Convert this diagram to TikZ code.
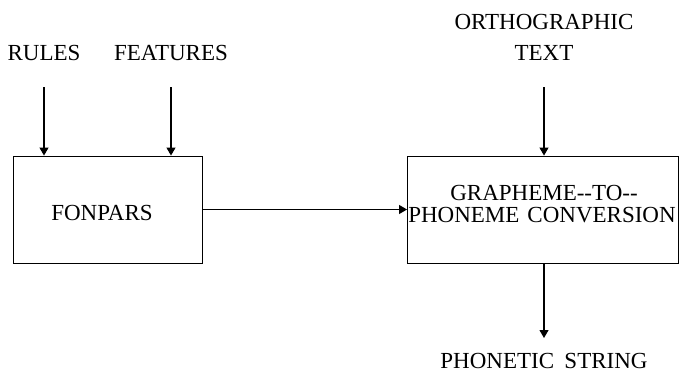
\documentclass[tikz,border=0pt]{standalone}
\usepackage{fontspec}
\setmainfont{Liberation Serif}
\usetikzlibrary{arrows.meta}
\begin{document}
\begin{tikzpicture}[x=1pt,y=-1pt,
  lbl/.style={inner sep=0pt,font=\fontsize{23}{30}\selectfont},
  blk/.style={draw,line width=0.9pt,inner sep=0pt},
  flow/.style={line width=1.1pt,-{Triangle[width=9pt,length=8pt]}}]
\useasboundingbox (0,0) rectangle (679,375);
% boxes
\node[blk,minimum width=189pt,minimum height=107pt] (fon) at (107.5,209.5) {};
\node[blk,minimum width=271pt,minimum height=107pt] (gtp) at (543,209.5) {};
\node[lbl] (fontext) at (102,213) {FONPARS};
\node[lbl] (g1) at (544,193) {GRAPHEME-{}-TO-{}-};
\node[lbl] (g2) at (542,215) {PHONEME\hspace{0.35em}CONVERSION};
% inputs
\node[lbl] (rules) at (44,53) {RULES};
\node[lbl] (feat) at (171,53) {FEATURES};
\node[lbl] (orth) at (544,22) {ORTHOGRAPHIC};
\node[lbl] (text) at (544,53) {TEXT};
\node[lbl] (phon) at (544,361) {PHONETIC\hspace{0.45em}STRING};
% connector endpoints
\coordinate (r0) at (44,87);
\coordinate (f0) at (171,87);
\coordinate (o0) at (544,87);
\coordinate (p1) at (544,338);
\draw[flow] (r0) -- (r0 |- fon.north);
\draw[flow] (f0) -- (f0 |- fon.north);
\draw[flow] (o0) -- (o0 |- gtp.north);
\draw[flow] (fon.east) -- (gtp.west);
\draw[flow] (p1 |- gtp.south) -- (p1);
\end{tikzpicture}
\end{document}
